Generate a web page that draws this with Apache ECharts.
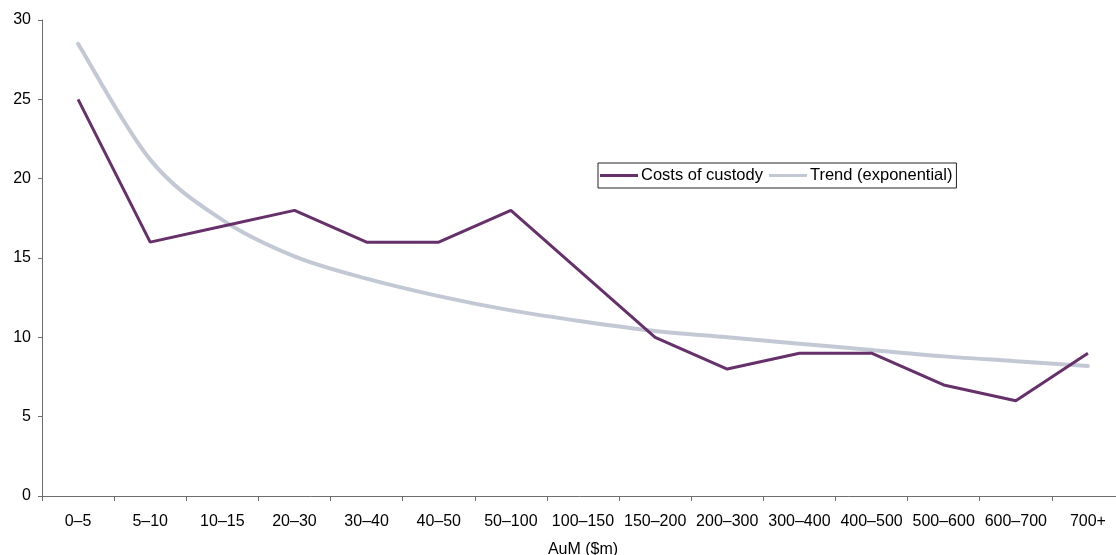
<!DOCTYPE html>
<html>
<head>
<meta charset="utf-8">
<script src="https://cdn.jsdelivr.net/npm/echarts@6/dist/echarts.min.js"></script>
<style>
html,body{margin:0;padding:0;background:#fff;}
#c{width:1116px;height:555px;}
</style>
</head>
<body>
<div id="c"></div>
<script>
const categories = ['0–5','5–10','10–15','20–30','30–40','40–50','50–100','100–150','150–200','200–300','300–400','400–500','500–600','600–700','700+'];
const costsOfCustody = [25, 16, 17, 18, 16, 16, 18, 14, 10, 8, 9, 9, 7, 6, 9];
const trendValues = [28.5, 21.2, 17.4, 15.1, 13.7, 12.6, 11.7, 11.0, 10.4, 10.0, 9.6, 9.2, 8.8, 8.5, 8.2];
const yTicks = { min: 0, max: 30, interval: 5 };

const chart = echarts.init(document.getElementById('c'), null, {renderer: 'canvas'});
const font = 'Liberation Sans, Arial, sans-serif';
const trendColor = '#c3c8d5';

// smooth curve through the trend points (Catmull-Rom -> cubic Bezier), positions via api.coord
function renderTrend(params, api) {
  if (params.dataIndex !== 0) return null;
  const pts = trendValues.map((v, i) => api.coord([i, v]));
  let d = 'M' + pts[0][0] + ' ' + pts[0][1];
  for (let i = 0; i < pts.length - 1; i++) {
    const p0 = pts[i - 1] || pts[i];
    const p1 = pts[i];
    const p2 = pts[i + 1];
    const p3 = pts[i + 2] || p2;
    const c1x = p1[0] + (p2[0] - p0[0]) / 6;
    const c1y = p1[1] + (p2[1] - p0[1]) / 6;
    const c2x = p2[0] - (p3[0] - p1[0]) / 6;
    const c2y = p2[1] - (p3[1] - p1[1]) / 6;
    d += ' C' + c1x + ' ' + c1y + ' ' + c2x + ' ' + c2y + ' ' + p2[0] + ' ' + p2[1];
  }
  return {
    type: 'path',
    shape: { pathData: d },
    style: { fill: null, stroke: trendColor, lineWidth: 4, lineCap: 'round' }
  };
}

chart.setOption({
  animation: false,
  textStyle: { fontFamily: font },
  grid: { left: 42, top: 20, width: 1082, height: 476, containLabel: false, outerBoundsMode: 'none' },
  legend: {
    left: 598, top: 163,
    padding: [4, 4, 4, 2],
    borderColor: '#222', borderWidth: 1,
    itemWidth: 38, itemHeight: 3, itemGap: 6,
    icon: 'rect',
    textStyle: { fontSize: 16.5, color: '#000', fontFamily: font, padding: [0, 0, 0, -2] },
    data: ['Costs of custody', { name: 'Trend (exponential)', itemStyle: { color: trendColor } }]
  },
  xAxis: {
    type: 'category',
    data: categories,
    boundaryGap: true,
    name: 'AuM ($m)',
    nameLocation: 'middle',
    nameGap: 46,
    nameTextStyle: { fontSize: 16, color: '#000', fontFamily: font },
    axisLine: { lineStyle: { color: '#6e6e6e', width: 1 } },
    axisTick: { show: true, length: 5, alignWithLabel: false, lineStyle: { color: '#6e6e6e' } },
    axisLabel: { fontSize: 16, color: '#000', margin: 18, interval: 0, fontFamily: font },
    splitLine: { show: false }
  },
  yAxis: {
    type: 'value',
    min: yTicks.min, max: yTicks.max, interval: yTicks.interval,
    axisLine: { show: true, lineStyle: { color: '#6e6e6e', width: 1 } },
    axisTick: { show: true, length: 4, lineStyle: { color: '#6e6e6e' } },
    axisLabel: { fontSize: 16, color: '#000', margin: 11, fontFamily: font },
    splitLine: { show: false }
  },
  series: [
    {
      name: 'Costs of custody',
      type: 'line',
      data: costsOfCustody,
      symbol: 'none',
      lineStyle: { color: '#66306a', width: 3 },
      itemStyle: { color: '#66306a' }
    },
    {
      name: 'Trend (exponential)',
      type: 'custom',
      data: trendValues.map((v, i) => [i, v]),
      encode: { x: 0, y: 1 },
      renderItem: renderTrend,
      itemStyle: { color: trendColor }
    }
  ]
});
</script>
</body>
</html>
